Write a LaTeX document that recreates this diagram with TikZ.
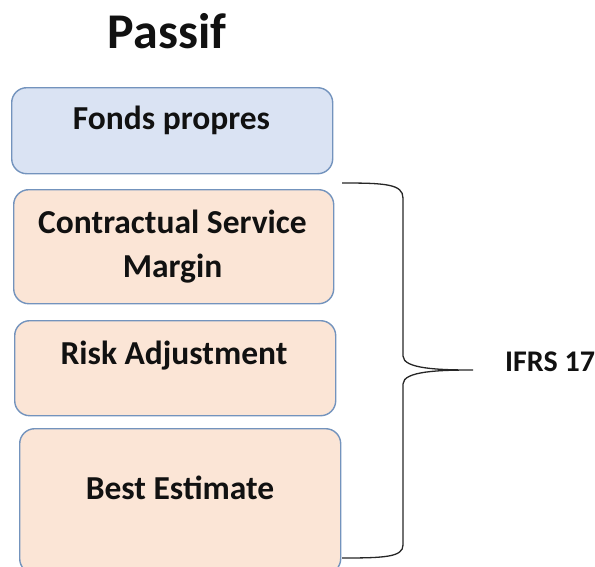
\documentclass[tikz,border=0pt]{standalone}
\usepackage{fontspec}
\setmainfont{Carlito}
\definecolor{boxblue}{HTML}{DAE3F3}
\definecolor{boxpeach}{HTML}{FBE5D6}
\definecolor{boxedge}{HTML}{7393BD}
\definecolor{inktext}{HTML}{111111}
\begin{document}
\begin{tikzpicture}[x=1pt,y=-1pt,
  block/.style={draw=boxedge, line width=1.4pt, rounded corners=15pt, anchor=north west, inner sep=0pt},
  label/.style={font=\bfseries\fontsize{33.5}{44}\selectfont, text=inktext, align=center, inner sep=0pt, anchor=base},
  bracket/.style={draw=black!85, line width=1.3pt}]
\useasboundingbox (0,0) rectangle (595,566);

% title
\node[font=\bfseries\fontsize{50}{60}\selectfont, text=inktext, inner sep=0pt, anchor=base] (title) at (167,48) {Passif};

% stacked liability blocks
\node[block, fill=boxblue,  minimum width=321pt, minimum height=86pt]  (fp)   at (11,87)  {};
\node[block, fill=boxpeach, minimum width=320pt, minimum height=114pt] (csm)  at (13,189) {};
\node[block, fill=boxpeach, minimum width=321pt, minimum height=95pt]  (ra)   at (14,320) {};
\node[block, fill=boxpeach, minimum width=321pt, minimum height=145pt] (be)   at (19,428) {};

% block captions (base anchor of a two-line caption is its last line)
\node[label] (fpt)  at (171.5,129) {Fonds propres};
\node[label] (csmt) at (172.5,277) {Contractual Service\\Margin};
\node[label] (rat)  at (174,364) {Risk Adjustment};
\node[label] (bet)  at (180,499) {Best Estimate};

% curly bracket grouping the IFRS 17 blocks
\coordinate (btop) at (342,183);
\coordinate (bbot) at (342,558);
\coordinate (btip) at (473,370);
\draw[bracket] (btop) .. controls (385,183) and (403,184) .. (403,198)
  -- (403,356) .. controls (403,369) and (440,370) .. (btip)
  .. controls (440,370) and (403,371) .. (403,384)
  -- (403,545) .. controls (403,557) and (385,558) .. (bbot);

\node[label, font=\bfseries\fontsize{30}{36}\selectfont, anchor=base west] (ifrs) at (505,371) {IFRS 17};
\end{tikzpicture}
\end{document}
